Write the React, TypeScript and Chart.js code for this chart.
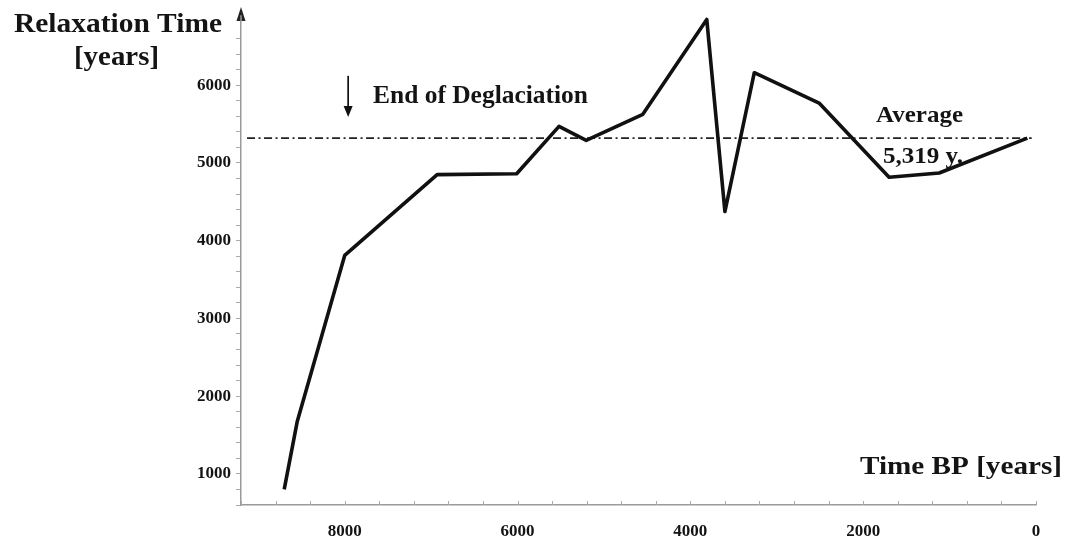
import React, { useEffect, useRef } from "react";
import { Chart, registerables } from "chart.js";

Chart.register(...registerables);

// ---- data ----
const timeBP = [8700, 8550, 8000, 6930, 6010, 5520, 5205, 4550, 3810, 3600, 3260, 2510, 1700, 1120, 100];
const relaxationTime = [800, 1670, 3810, 4850, 4860, 5470, 5290, 5625, 6845, 4375, 6160, 5770, 4815, 4870, 5319];
const averageValue = 5319;
const averageSpan = [9130, 50];
const deglaciationX = 7960;
const deglaciationArrowY = [6120, 5590];
const xMajorStep = 2000;
const yMajorStep = 1000;

const FONT = '"Liberation Serif", "Times New Roman", serif';
const TEXT = "#141414";
const AXIS = "#9a9a9a";

function fitText(ctx: CanvasRenderingContext2D, text: string, x: number, baseline: number, size: number, width: number) {
  ctx.save();
  ctx.font = `bold ${size}px ${FONT}`;
  ctx.fillStyle = TEXT;
  ctx.textAlign = "left";
  ctx.textBaseline = "alphabetic";
  const w = ctx.measureText(text).width;
  ctx.translate(x, baseline);
  ctx.scale(width / w, 1);
  ctx.fillText(text, 0, 0);
  ctx.restore();
}

const decorPlugin = {
  id: "decor",
  afterDraw(chart: any) {
    const ctx: CanvasRenderingContext2D = chart.ctx;
    const xs = chart.scales.x;
    const ys = chart.scales.y;

    // x-axis tick marks (pointing inward)
    ctx.save();
    ctx.strokeStyle = "#aaaaaa";
    ctx.lineWidth = 1;
    xs.ticks.forEach((t: any) => {
      const px = Math.round(xs.getPixelForValue(t.value)) + 0.5;
      ctx.beginPath();
      ctx.moveTo(px, xs.top);
      ctx.lineTo(px, xs.top - 4);
      ctx.stroke();
    });
    ctx.restore();

    // y-axis arrow head
    const ax = ys.right;
    ctx.save();
    ctx.fillStyle = "#222";
    ctx.beginPath();
    ctx.moveTo(ax, 7);
    ctx.lineTo(ax - 4.5, 21);
    ctx.lineTo(ax + 4.5, 21);
    ctx.closePath();
    ctx.fill();
    ctx.strokeStyle = AXIS;
    ctx.lineWidth = 1.5;
    ctx.beginPath();
    ctx.moveTo(ax, 21);
    ctx.lineTo(ax, chart.chartArea.top);
    ctx.stroke();
    ctx.restore();

    // End of Deglaciation arrow
    const dx = xs.getPixelForValue(deglaciationX);
    const dy0 = ys.getPixelForValue(deglaciationArrowY[0]);
    const dy1 = ys.getPixelForValue(deglaciationArrowY[1]);
    ctx.save();
    ctx.strokeStyle = "#111";
    ctx.fillStyle = "#111";
    ctx.lineWidth = 1.7;
    ctx.beginPath();
    ctx.moveTo(dx, dy0);
    ctx.lineTo(dx, dy1 - 8);
    ctx.stroke();
    ctx.beginPath();
    ctx.moveTo(dx, dy1);
    ctx.lineTo(dx - 4.5, dy1 - 11);
    ctx.lineTo(dx + 4.5, dy1 - 11);
    ctx.closePath();
    ctx.fill();
    ctx.restore();

    // texts
    fitText(ctx, "Relaxation Time", 14, 32, 27, 208);
    fitText(ctx, "[years]", 74, 65, 27, 85);
    fitText(ctx, "End of Deglaciation", 373, 103, 25, 215);
    fitText(ctx, "Average", 876, 122, 23, 87);
    fitText(ctx, "5,319 y.", 883, 163, 23, 80);
    fitText(ctx, "Time BP [years]", 860, 473.5, 26, 202);
  },
};

export default function App() {
  const ref = useRef<HTMLCanvasElement | null>(null);
  useEffect(() => {
    if (!ref.current) return;
    const tickFont = { family: FONT, size: 17, weight: "bold" as const };
    const chart = new Chart(ref.current, {
      type: "line",
      data: {
        datasets: [
          {
            data: timeBP.map((x, i) => ({ x, y: relaxationTime[i] })),
            borderColor: "#111",
            borderWidth: 3.6,
            pointRadius: 0,
            tension: 0,
            borderJoinStyle: "round",
            borderCapStyle: "butt",
            fill: false,
          },
          {
            data: averageSpan.map((x) => ({ x, y: averageValue })),
            borderColor: "#222",
            borderWidth: 1.8,
            borderDash: [8, 3.5, 2, 3.5],
            pointRadius: 0,
            fill: false,
          },
        ],
      },
      options: {
        animation: false,
        responsive: false,
        maintainAspectRatio: false,
        layout: { padding: { left: 0, right: 33, top: 13, bottom: 0 } },
        plugins: { legend: { display: false }, tooltip: { enabled: false } },
        scales: {
          x: {
            type: "linear",
            reverse: true,
            min: 0,
            max: 9200,
            ticks: {
              stepSize: 400,
              autoSkip: false,
              maxRotation: 0,
              padding: 16,
              color: TEXT,
              font: tickFont,
              callback: (v: any) => (Number(v) % xMajorStep === 0 ? String(v) : ""),
            },
            grid: { display: false, drawTicks: false },
            border: { display: true, color: AXIS, width: 1.5 },
            afterFit: (s: any) => {
              s.height = 36;
            },
          },
          y: {
            type: "linear",
            min: 600,
            max: 6900,
            afterBuildTicks: (s: any) => {
              s.ticks = s.ticks.filter((t: any) => t.value % 200 === 0);
            },
            ticks: {
              stepSize: 200,
              autoSkip: false,
              padding: 5,
              color: TEXT,
              font: tickFont,
              callback: (v: any) => (Number(v) % yMajorStep === 0 ? String(v) : ""),
            },
            grid: { drawOnChartArea: false, drawTicks: true, tickLength: 5, color: "#aaaaaa", lineWidth: 1 },
            border: { display: true, color: AXIS, width: 1.5 },
            afterFit: (s: any) => {
              s.width = 241;
            },
          },
        },
      },
      plugins: [decorPlugin],
    });
    return () => chart.destroy();
  }, []);
  return (
    <div style={{ position: "absolute", left: 0, top: 0, width: 1069, height: 541, background: "#fff" }}>
      <canvas ref={ref} width={1069} height={541} style={{ display: "block" }} />
    </div>
  );
}
